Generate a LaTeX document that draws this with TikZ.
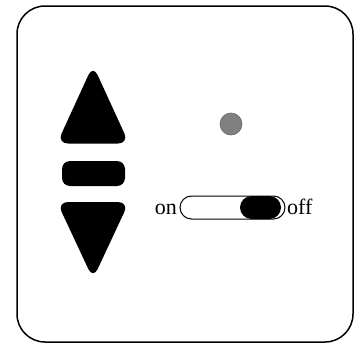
\documentclass[tikz,border=0pt]{standalone}
\usepackage{fontspec}
\setmainfont{Liberation Serif}
\begin{document}
\begin{tikzpicture}[x=1pt,y=-1pt,
  frame/.style={draw=black,line width=1.5pt,rounded corners=28pt},
  btn/.style={fill=black,rounded corners=11pt},
  lbl/.style={inner sep=0pt,font=\fontsize{22}{24}\selectfont}]
\useasboundingbox (0,0) rectangle (356,343);
\draw[frame] (17,6) rectangle (353,342);
% up triangle
\fill[btn] (93,65) -- (129,143.5) -- (57,143.5) -- cycle;
% bar
\fill[rounded corners=8pt] (62,161) rectangle (125,186);
% down triangle
\fill[btn] (57,202) -- (129,202) -- (93,279) -- cycle;
% dot
\node[circle,minimum size=22pt,inner sep=0pt,fill=gray,draw=black!60,line width=0.6pt] (led) at (231,124) {};
% switch
\draw[line width=1pt,rounded corners=11.5pt] (180,196) rectangle (285,219);
\fill[rounded corners=11.5pt] (240,196) rectangle (281,219);
\node[lbl,anchor=base east] (on) at (177,214.5) {on};
\node[lbl,anchor=base west] (off) at (287,214.5) {off};
\end{tikzpicture}
\end{document}
